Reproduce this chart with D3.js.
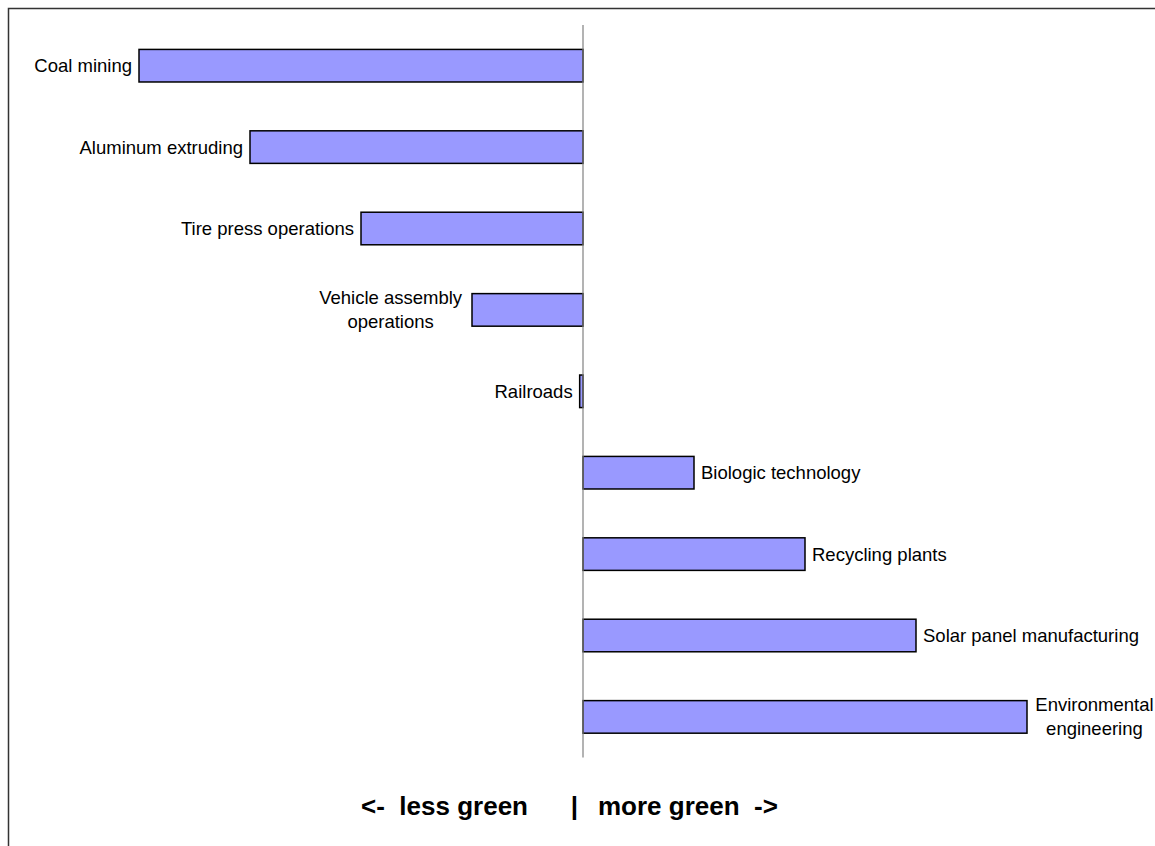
<!DOCTYPE html>
<html>
<head>
<meta charset="utf-8">
<script src="https://cdn.jsdelivr.net/npm/d3@7"></script>
<style>
  body { margin: 0; background: #fff; }
  text { font-family: Arial, "Liberation Sans", sans-serif; fill: #000; }
</style>
</head>
<body>
<div id="chart"></div>
<script>
// categories top to bottom, "\n" marks the line breaks of the labels
var categories = ["Coal mining", "Aluminum extruding", "Tire press operations",
  "Vehicle assembly\noperations", "Railroads", "Biologic technology",
  "Recycling plants", "Solar panel manufacturing", "Environmental\nengineering"];
var greenScore = [-4, -3, -2, -1, -0.03, 1, 2, 3, 4];
var axisLabels = ["<-  less green", "|", "more green  ->"];

var width = 1155, height = 846;

var svg = d3.select("#chart").append("svg")
    .attr("width", width)
    .attr("height", height);

// chart frame (right and bottom edges fall outside the picture)
svg.append("rect")
  .attr("x", 8.5).attr("y", 8.5)
  .attr("width", width + 10).attr("height", height + 10)
  .attr("fill", "none")
  .attr("stroke", "#333")
  .attr("stroke-width", 1.5);

var x = d3.scaleLinear().domain([-5, 5]).range([28, 1138]);
var y = d3.scaleBand().domain(categories).range([25, 757.6])
    .paddingInner(0.6).paddingOuter(0.3);

var data = categories.map(function(c, i){ return {name: c, value: greenScore[i]}; });

svg.selectAll("rect.bar")
  .data(data)
  .enter()
  .append("rect")
  .attr("class", "bar")
  .attr("x", function(d){ return x(Math.min(0, d.value)); })
  .attr("y", function(d){ return y(d.name); })
  .attr("width", function(d){ return Math.abs(x(d.value) - x(0)); })
  .attr("height", y.bandwidth())
  .attr("fill", "#9999ff")
  .attr("stroke", "#000")
  .attr("stroke-width", 1.5);

// zero line
svg.append("line")
  .attr("x1", x(0)).attr("x2", x(0))
  .attr("y1", y.range()[0]).attr("y2", y.range()[1])
  .attr("stroke", "#808080")
  .attr("stroke-width", 1.2);

// category labels at the end of each bar
var labels = svg.selectAll("text.cat")
  .data(data)
  .enter()
  .append("text")
  .attr("class", "cat")
  .style("font-size", "18.5px")
  .attr("text-anchor", function(d){ return d.name.indexOf("\n") >= 0 ? "middle" : (d.value < 0 ? "end" : "start"); })
  .attr("transform", function(d){
    var lines = d.name.split("\n");
    var cy = y(d.name) + y.bandwidth() / 2;
    var gap = 7;
    var tx = d.value < 0 ? x(d.value) - gap : x(d.value) + gap;
    if (lines.length > 1) {
      // center the block on its widest line
      var w = d3.max(lines, function(l){ return l.length; }) * 9.3;
      tx = d.value < 0 ? tx - w / 2 : tx + w / 2;
    }
    return "translate(" + tx + "," + cy + ")";
  });

labels.each(function(d){
  var lines = d.name.split("\n");
  var lh = 24;
  var t = d3.select(this);
  lines.forEach(function(l, i){
    t.append("tspan")
      .attr("x", 0)
      .attr("y", (i - (lines.length - 1) / 2) * lh)
      .attr("dy", "0.35em")
      .text(l);
  });
});

// direction caption under the chart
var capY = 815;
svg.append("text")
  .attr("x", x(0) - 55).attr("y", capY)
  .attr("text-anchor", "end")
  .style("font-size", "26px").style("font-weight", "bold")
  .style("white-space", "pre")
  .text(axisLabels[0]);
svg.append("text")
  .attr("x", x(0) - 8.5).attr("y", capY)
  .attr("text-anchor", "middle")
  .style("font-size", "26px").style("font-weight", "bold")
  .text(axisLabels[1]);
svg.append("text")
  .attr("x", x(0) + 15).attr("y", capY)
  .attr("text-anchor", "start")
  .style("font-size", "26px").style("font-weight", "bold")
  .style("white-space", "pre")
  .text(axisLabels[2]);
</script>
</body>
</html>
